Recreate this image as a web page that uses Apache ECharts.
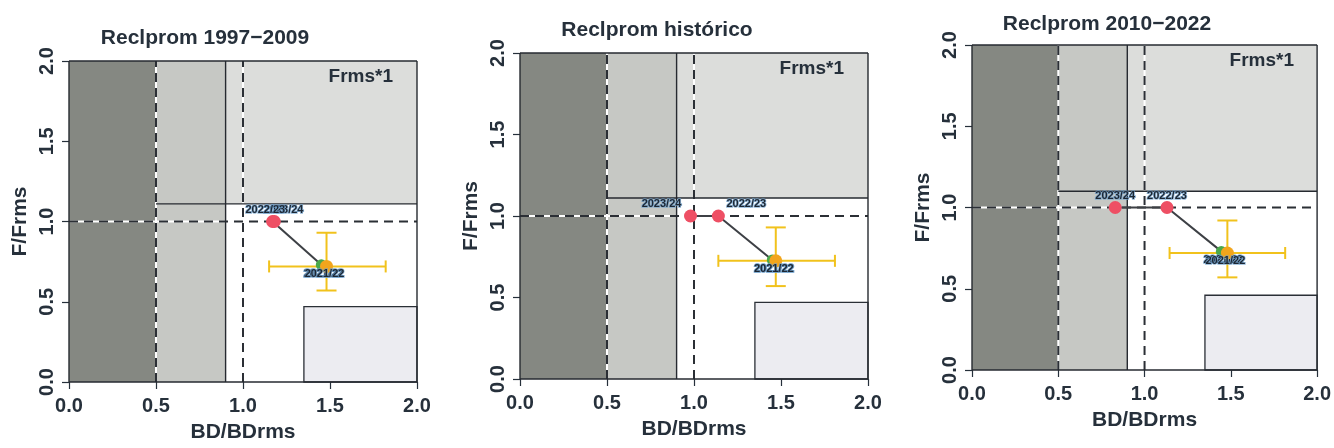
<!DOCTYPE html>
<html>
<head>
<meta charset="utf-8">
<script src="https://cdn.jsdelivr.net/npm/echarts@6/dist/echarts.min.js"></script>
<style>
  html, body { margin: 0; padding: 0; background: #ffffff; }
  #chart { width: 1334px; height: 448px; }
</style>
</head>
<body>
<div id="chart"></div>
<script>
// ---- data ----
const panelTitles = ['Reclprom 1997\u22122009', 'Reclprom hist\u00f3rico', 'Reclprom 2010\u22122022'];
const axisTicks = [0, 0.5, 1.0, 1.5, 2.0];
const tickLabels = ['0.0', '0.5', '1.0', '1.5', '2.0'];
const xName = 'BD/BDrms';
const yName = 'F/Frms';
const fLabel = 'Frms*1';

// reference levels per panel
const blimX = [0.5, 0.5, 0.5];      // dashed, left
const bpaX = [1.0, 1.0, 1.0];       // dashed, right
const refF = [1.0, 1.0, 1.0];       // dashed, horizontal
const zoneX = [0.9, 0.9, 0.9];      // solid vertical
const zoneF = [1.11, 1.11, 1.10];   // solid horizontal
const lowBoxX = [1.35, 1.35, 1.35]; // lower-right box, left edge
const lowBoxF = [0.47, 0.47, 0.46]; // lower-right box, top edge

// trajectory (newest first)
const trajYears = ['2023/24', '2022/23', '2021/22'];
const trajX = [[1.17, 1.18, 1.45], [0.98, 1.14, 1.45], [0.83, 1.13, 1.445]];
const trajY = [[1.00, 1.00, 0.73], [1.00, 1.00, 0.73], [1.00, 1.00, 0.73]];

// central estimate with intervals
const meanYear = '2021/22';
const meanX = [1.48, 1.47, 1.48];
const meanY = [0.72, 0.725, 0.72];
const ciXlo = [1.15, 1.14, 1.145];
const ciXhi = [1.82, 1.81, 1.815];
const ciYlo = [0.57, 0.57, 0.57];
const ciYhi = [0.93, 0.93, 0.92];

// ---- layout & style ----
const grids = [
  { left: 69, top: 61, width: 348, height: 326 },
  { left: 520, top: 53, width: 348, height: 326 },
  { left: 972, top: 45, width: 346, height: 325 }
];
const titlePos = [[205, 38], [657, 30], [1107, 24]];
const FONT = '"Liberation Sans", Arial, sans-serif';
const INK = '#26303b';
const zoneFill = ['#858882', '#c6c8c4', '#dcdddb', '#ececf1'];
// label offsets for the trajectory points [panel][point]
const trajLabelOffset = [
  [[11, -12], [-9, -12]],
  [[-29, -12], [28, -12]],
  [[0, -12], [0, -12]]
];
const yearLabelStyle = {
  show: true, position: 'inside', fontFamily: FONT, fontSize: 11, fontWeight: 'bold',
  color: '#1d2733', textBorderColor: 'rgba(110,160,205,0.75)', textBorderWidth: 1.5
};

const grid = [], xAxis = [], yAxis = [], series = [], graphic = [];

for (let i = 0; i < 3; i++) {
  grid.push(Object.assign({ show: false }, grids[i]));
  const axisCommon = {
    gridIndex: i, type: 'value', min: 0, max: 2, interval: 0.5,
    axisLine: { show: false },
    axisTick: { show: true, length: 7, lineStyle: { color: INK, width: 1.2 } },
    splitLine: { show: false },
    nameLocation: 'middle',
    nameTextStyle: { fontFamily: FONT, fontSize: 21, fontWeight: 'bold', color: INK }
  };
  xAxis.push(Object.assign({}, axisCommon, {
    name: xName, nameGap: 40,
    axisLabel: { margin: 14, fontFamily: FONT, fontSize: 20, fontWeight: 'bold', color: INK,
      formatter: v => tickLabels[axisTicks.indexOf(v)] }
  }));
  yAxis.push(Object.assign({}, axisCommon, {
    name: yName, nameGap: 38,
    axisLabel: { margin: 12, rotate: 90, fontFamily: FONT, fontSize: 20, fontWeight: 'bold', color: INK,
      formatter: v => tickLabels[axisTicks.indexOf(v)] }
  }));

  // background zones: [x0, y0, x1, y1, fillIndex]
  const zones = [
    [0, 0, blimX[i], 2, 0],
    [blimX[i], 0, zoneX[i], 2, 1],
    [zoneX[i], zoneF[i], 2, 2, 2],
    [lowBoxX[i], 0, 2, lowBoxF[i], 3]
  ];
  series.push({
    type: 'custom', xAxisIndex: i, yAxisIndex: i, z: 1, silent: true,
    data: zones,
    renderItem: (params, api) => {
      const a = api.coord([api.value(0), api.value(3)]);
      const b = api.coord([api.value(2), api.value(1)]);
      const k = api.value(4);
      return {
        type: 'rect',
        shape: { x: a[0], y: a[1], width: b[0] - a[0], height: b[1] - a[1] },
        style: { fill: zoneFill[k], stroke: k === 3 ? '#2a2f36' : null, lineWidth: k === 3 ? 1.3 : 0 }
      };
    }
  });

  // reference lines: [x0, y0, x1, y1, dashed]
  const refLines = [
    [blimX[i], 0, blimX[i], 2, 1],
    [bpaX[i], 0, bpaX[i], 2, 1],
    [0, refF[i], 2, refF[i], 1],
    [zoneX[i], 0, zoneX[i], 2, 0],
    [blimX[i], zoneF[i], 2, zoneF[i], 0],
    [0, 0, 2, 0, 0], [2, 0, 2, 2, 0], [2, 2, 0, 2, 0], [0, 2, 0, 0, 0]
  ];
  series.push({
    type: 'custom', xAxisIndex: i, yAxisIndex: i, z: 2, silent: true,
    data: refLines,
    renderItem: (params, api) => {
      const a = api.coord([api.value(0), api.value(1)]);
      const b = api.coord([api.value(2), api.value(3)]);
      const shape = { x1: a[0], y1: a[1], x2: b[0], y2: b[1] };
      if (api.value(4) === 1) {
        return {
          type: 'group', children: [
            { type: 'line', shape, style: { stroke: '#ffffff', lineWidth: 2 } },
            { type: 'line', shape, style: { stroke: '#2b2f35', lineWidth: 2, lineDash: [9, 6] } }
          ]
        };
      }
      return { type: 'line', shape, style: { stroke: '#262a30', lineWidth: 1.4 } };
    }
  });

  // interval bars around the central estimate
  series.push({
    type: 'custom', xAxisIndex: i, yAxisIndex: i, z: 3, silent: true,
    data: [[meanX[i], meanY[i], ciXlo[i], ciXhi[i], ciYlo[i], ciYhi[i]]],
    renderItem: (params, api) => {
      const c = api.coord([api.value(0), api.value(1)]);
      const l = api.coord([api.value(2), api.value(1)]);
      const r = api.coord([api.value(3), api.value(1)]);
      const lo = api.coord([api.value(0), api.value(4)]);
      const hi = api.coord([api.value(0), api.value(5)]);
      const st = { stroke: '#f1c21c', lineWidth: 2 };
      const ln = (x1, y1, x2, y2) => ({ type: 'line', shape: { x1, y1, x2, y2 }, style: st });
      return {
        type: 'group', children: [
          ln(l[0], l[1], r[0], r[1]),
          ln(l[0], l[1] - 6, l[0], l[1] + 6),
          ln(r[0], r[1] - 6, r[0], r[1] + 6),
          ln(lo[0], lo[1], hi[0], hi[1]),
          ln(lo[0] - 10, lo[1], lo[0] + 10, lo[1]),
          ln(hi[0] - 10, hi[1], hi[0] + 10, hi[1])
        ]
      };
    }
  });

  // trajectory line
  series.push({
    type: 'line', xAxisIndex: i, yAxisIndex: i, z: 4, silent: true,
    symbol: 'none', lineStyle: { color: '#3d4045', width: 2 },
    data: trajX[i].map((x, j) => [x, trajY[i][j]])
  });

  // earlier years (red)
  series.push({
    type: 'scatter', xAxisIndex: i, yAxisIndex: i, z: 5, silent: true,
    symbolSize: 13, itemStyle: { color: '#ee4f64', opacity: 1 },
    data: [0, 1].map(j => ({
      value: [trajX[i][j], trajY[i][j]],
      label: Object.assign({}, yearLabelStyle, { formatter: trajYears[j], offset: trajLabelOffset[i][j] })
    }))
  });

  // last trajectory point (green)
  series.push({
    type: 'scatter', xAxisIndex: i, yAxisIndex: i, z: 5, silent: true,
    symbolSize: 11, itemStyle: { color: '#4aa84a', opacity: 1 },
    data: [{
      value: [trajX[i][2], trajY[i][2]],
      label: Object.assign({}, yearLabelStyle, { formatter: trajYears[2], offset: [2, 9] })
    }]
  });

  // central estimate (orange)
  series.push({
    type: 'scatter', xAxisIndex: i, yAxisIndex: i, z: 6, silent: true,
    symbolSize: 13, itemStyle: { color: '#f2a51c', opacity: 1 },
    data: [{
      value: [meanX[i], meanY[i]],
      label: Object.assign({}, yearLabelStyle, { formatter: meanYear, offset: [-2, 8] })
    }]
  });

  graphic.push({
    type: 'text', x: titlePos[i][0], y: titlePos[i][1], z: 10,
    style: { text: panelTitles[i], font: 'bold 21px ' + FONT, fill: INK, align: 'center', verticalAlign: 'middle' }
  });
  graphic.push({
    type: 'text', x: grids[i].left + grids[i].width - 24, y: grids[i].top + 16, z: 10,
    style: { text: fLabel, font: 'bold 19px ' + FONT, fill: INK, align: 'right', verticalAlign: 'middle' }
  });
}

const chart = echarts.init(document.getElementById('chart'), null, { renderer: 'canvas' });
chart.setOption({ animation: false, backgroundColor: '#ffffff', grid, xAxis, yAxis, series, graphic });
</script>
</body>
</html>
